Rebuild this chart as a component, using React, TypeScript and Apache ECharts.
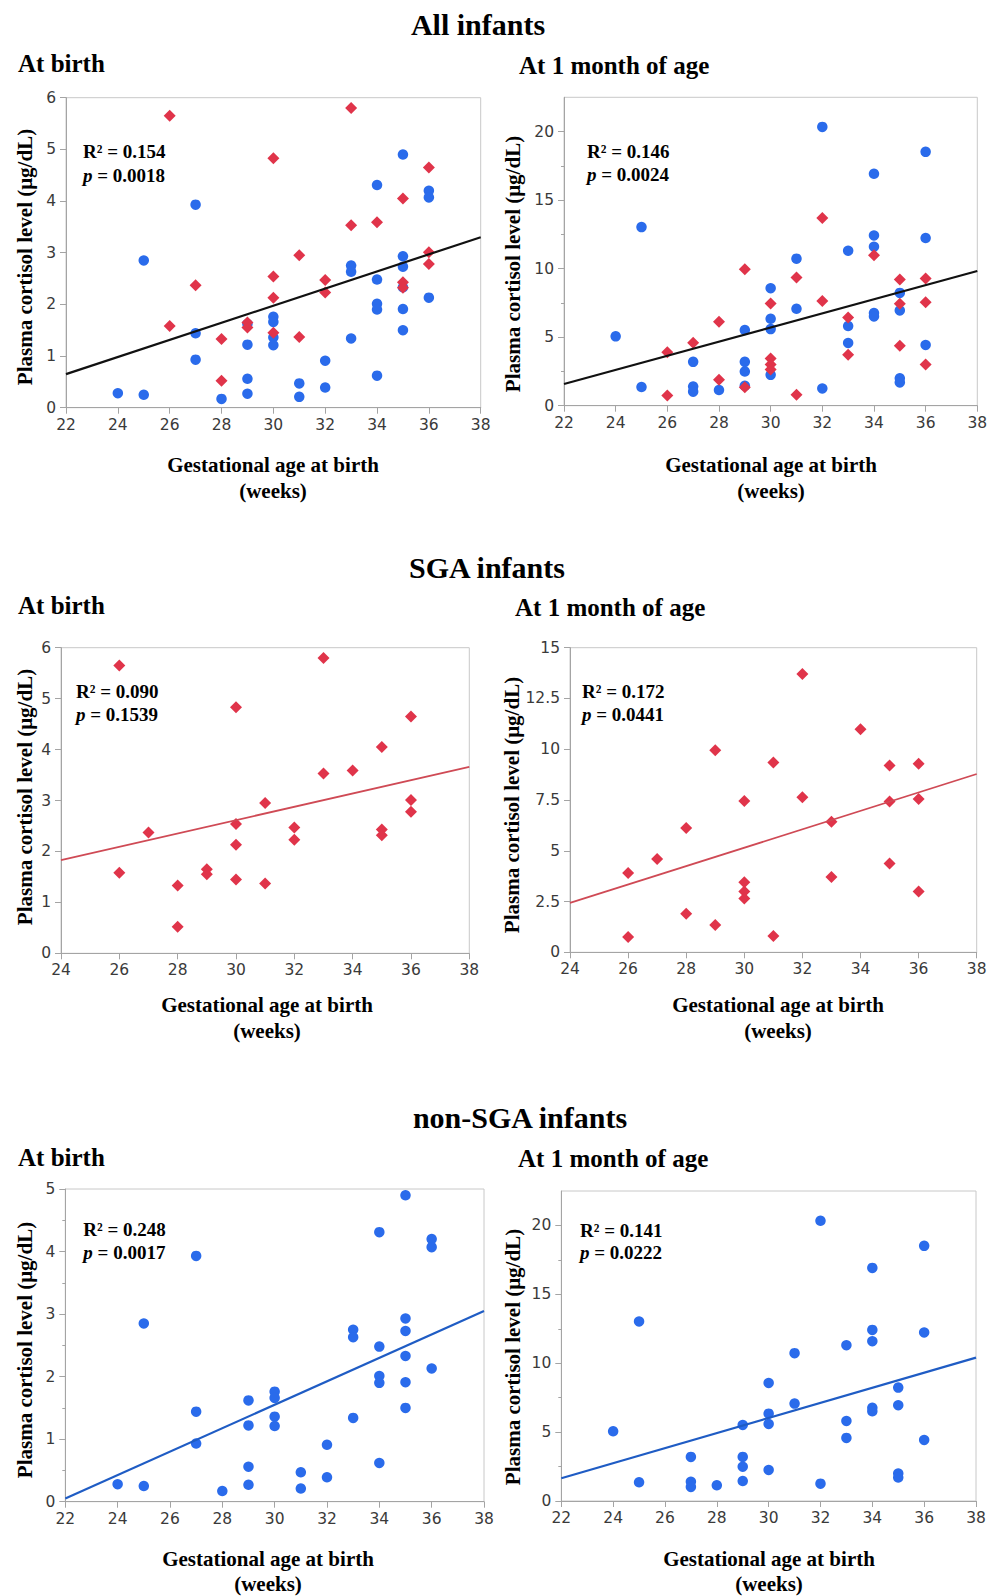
import React, { useEffect, useRef } from "react";
import * as echarts from "echarts";

type Pt = [number, number];

// ---- data (gestational week, cortisol µg/dL) ----
const sgaBirth: Pt[] = [
  [26, 5.65], [26, 1.58], [27, 2.37], [28, 1.33], [28, 0.52], [29, 1.65], [29, 1.55],
  [30, 4.83], [30, 2.54], [30, 2.13], [30, 1.45], [31, 2.95], [31, 1.37], [32, 2.47],
  [32, 2.23], [33, 5.8], [33, 3.53], [34, 3.59], [35, 4.05], [35, 2.43], [35, 2.32],
  [36, 4.65], [36, 3.01], [36, 2.78],
];
const sgaMonth: Pt[] = [
  [26, 3.9], [26, 0.75], [27, 4.6], [28, 6.12], [28, 1.9], [29, 9.95], [29, 1.35],
  [30, 7.45], [30, 3.45], [30, 3.0], [30, 2.65], [31, 9.35], [31, 0.8], [32, 13.7],
  [32, 7.63], [33, 6.43], [33, 3.71], [34, 10.98], [35, 9.2], [35, 7.43], [35, 4.37],
  [36, 9.28], [36, 7.55], [36, 3.0],
];
const nonSgaBirth: Pt[] = [
  [24, 0.28], [25, 2.85], [25, 0.25], [27, 3.93], [27, 1.44], [27, 0.93], [28, 0.17],
  [29, 1.62], [29, 1.22], [29, 0.56], [29, 0.27], [30, 1.76], [30, 1.66], [30, 1.36],
  [30, 1.21], [31, 0.47], [31, 0.21], [32, 0.91], [32, 0.39], [33, 2.75], [33, 2.63],
  [33, 1.34], [34, 4.31], [34, 2.48], [34, 2.01], [34, 1.9], [34, 0.62], [35, 4.9],
  [35, 2.93], [35, 2.73], [35, 2.33], [35, 1.91], [35, 1.5], [36, 4.2], [36, 4.07],
  [36, 2.13],
];
const nonSgaMonth: Pt[] = [
  [24, 5.06], [25, 13.03], [25, 1.36], [27, 3.2], [27, 1.4], [27, 1.02], [28, 1.14],
  [29, 5.52], [29, 3.2], [29, 2.49], [29, 1.45], [30, 8.57], [30, 6.34], [30, 5.59],
  [30, 2.25], [31, 10.73], [31, 7.07], [32, 20.34], [32, 1.26], [33, 11.31], [33, 5.81],
  [33, 4.58], [34, 16.92], [34, 12.42], [34, 11.6], [34, 6.76], [34, 6.51], [35, 8.23],
  [35, 6.95], [35, 2.0], [35, 1.7], [36, 18.52], [36, 12.23], [36, 4.43],
];

// regression lines (end points)
const fitAllBirth: Pt[] = [[22, 0.65], [38, 3.3]];
const fitAllMonth: Pt[] = [[22, 1.58], [38, 9.83]];
const fitSgaBirth: Pt[] = [[24, 1.83], [38, 3.66]];
const fitSgaMonth: Pt[] = [[24, 2.43], [38, 8.78]];
const fitNonSgaBirth: Pt[] = [[22, 0.05], [38, 3.05]];
const fitNonSgaMonth: Pt[] = [[22, 1.65], [38, 10.41]];

const r2Values = ["0.154", "0.146", "0.090", "0.172", "0.248", "0.141"];
const pValues = ["0.0018", "0.0024", "0.1539", "0.0441", "0.0017", "0.0222"];

const groupTitles = ["All infants", "SGA infants", "non-SGA infants"];
const timeTitles = ["At birth", "At 1 month of age"];
const yTitle = "Plasma cortisol level (μg/dL)";
const xTitle1 = "Gestational age at birth";
const xTitle2 = "(weeks)";

// ---- styling ----
const SERIF = '"Liberation Serif", "Times New Roman", serif';
const SANS = '"DejaVu Sans", Verdana, sans-serif';
const BLUE = "#2a6beb";
const RED = "#e0344a";
const AXIS = "#a4a4a4";
const LABEL = "#3a3a3a";

interface Panel {
  left: number; top: number; width: number; height: number;
  xMin: number; yMax: number; yInterval: number;
  minor: "none" | "split" | "custom";
  blue?: Pt[]; red?: Pt[];
  fit: Pt[]; fitColor: string; fitWidth: number;
  statX: number; statY1: number; statY2: number;
  yTitleX: number; yTitleY: number;
  xTitleX: number; xTitleY1: number; xTitleY2: number;
}

const panels: Panel[] = [
  { left: 66, top: 97.7, width: 414.7, height: 310, xMin: 22, yMax: 6, yInterval: 1, minor: "none",
    blue: nonSgaBirth, red: sgaBirth, fit: fitAllBirth, fitColor: "#111111", fitWidth: 2.2,
    statX: 83, statY1: 151, statY2: 175, yTitleX: 25, yTitleY: 257, xTitleX: 273, xTitleY1: 465, xTitleY2: 490.5 },
  { left: 564, top: 97.3, width: 413.3, height: 308.4, xMin: 22, yMax: 22.5, yInterval: 5, minor: "custom",
    blue: nonSgaMonth, red: sgaMonth, fit: fitAllMonth, fitColor: "#111111", fitWidth: 2.2,
    statX: 587, statY1: 151, statY2: 174.3, yTitleX: 513, yTitleY: 264, xTitleX: 771, xTitleY1: 465, xTitleY2: 490.5 },
  { left: 61, top: 647.7, width: 408.3, height: 305.6, xMin: 24, yMax: 6, yInterval: 1, minor: "none",
    red: sgaBirth, fit: fitSgaBirth, fitColor: "#cf4a55", fitWidth: 1.8,
    statX: 76, statY1: 691, statY2: 714.3, yTitleX: 25, yTitleY: 797, xTitleX: 267, xTitleY1: 1005, xTitleY2: 1030.6 },
  { left: 570, top: 647.7, width: 406.7, height: 304.6, xMin: 24, yMax: 15, yInterval: 2.5, minor: "none",
    red: sgaMonth, fit: fitSgaMonth, fitColor: "#cf4a55", fitWidth: 1.8,
    statX: 582, statY1: 691, statY2: 714.3, yTitleX: 512, yTitleY: 805, xTitleX: 778, xTitleY1: 1005, xTitleY2: 1030.6 },
  { left: 65.3, top: 1189, width: 418.7, height: 312.7, xMin: 22, yMax: 5, yInterval: 1, minor: "split",
    blue: nonSgaBirth, fit: fitNonSgaBirth, fitColor: "#1f5cc4", fitWidth: 2.2,
    statX: 83.3, statY1: 1229, statY2: 1252.3, yTitleX: 25, yTitleY: 1350, xTitleX: 268, xTitleY1: 1559, xTitleY2: 1584 },
  { left: 561.3, top: 1191, width: 414.7, height: 310, xMin: 22, yMax: 22.5, yInterval: 5, minor: "custom",
    blue: nonSgaMonth, fit: fitNonSgaMonth, fitColor: "#1f5cc4", fitWidth: 2.2,
    statX: 580, statY1: 1230, statY2: 1252.7, yTitleX: 513, yTitleY: 1357, xTitleX: 769, xTitleY1: 1559, xTitleY2: 1584 },
];

function txt(x: number, y: number, text: string, size: number, align: string, extra: any = {}) {
  return {
    type: "text",
    x, y,
    silent: true,
    ...extra,
    style: {
      text,
      font: `bold ${size}px ${SERIF}`,
      fill: "#000",
      align,
      verticalAlign: "middle",
      textAlign: align,
      textVerticalAlign: "middle",
      ...(extra.style || {}),
    },
  };
}

function buildOption() {
  const grid: any[] = [];
  const xAxis: any[] = [];
  const yAxis: any[] = [];
  const series: any[] = [];
  const graphic: any[] = [];

  panels.forEach((p, i) => {
    grid.push({
      left: p.left, top: p.top, width: p.width, height: p.height,
      show: true, borderColor: "#c8c8c8", borderWidth: 1, backgroundColor: "transparent",
      containLabel: false, outerBoundsMode: "none",
    });
    xAxis.push({
      gridIndex: i, type: "value", min: p.xMin, max: 38, interval: 2,
      axisLine: { show: true, onZero: false, lineStyle: { color: AXIS, width: 1 } },
      axisTick: { show: true, inside: false, length: 6, lineStyle: { color: AXIS } },
      axisLabel: { color: LABEL, fontFamily: SANS, fontSize: 15.5, margin: 9 },
      splitLine: { show: false },
    });
    const majorVals: number[] = [];
    for (let v = 0; v <= p.yMax + 1e-9; v += p.yInterval) majorVals.push(v);
    const yMain: any = {
      gridIndex: i, type: "value", min: 0, max: p.yMax, interval: p.yInterval,
      axisLine: { show: true, onZero: false, lineStyle: { color: AXIS, width: 1 } },
      axisTick: { show: true, inside: false, length: 6, lineStyle: { color: AXIS } },
      axisLabel: { color: LABEL, fontFamily: SANS, fontSize: 15.5, margin: 10 },
      splitLine: { show: false },
    };
    if (p.minor === "split") {
      yMain.minorTick = { show: true, splitNumber: 2, length: 3, lineStyle: { color: AXIS } };
    }
    if (p.minor === "custom") {
      yMain.axisTick.customValues = majorVals;
      yMain.axisLabel.customValues = majorVals;
      yMain.axisLabel.formatter = (v: number) => (Math.abs(v % 5) < 1e-9 ? String(v) : "");
    }
    const yIndex = yAxis.length;
    yAxis.push(yMain);
    if (p.minor === "custom") {
      const minorVals: number[] = [];
      for (let v = p.yInterval / 2; v < p.yMax - 1e-9; v += p.yInterval) minorVals.push(v);
      yAxis.push({
        gridIndex: i, type: "value", min: 0, max: p.yMax, interval: p.yInterval / 2, position: "left",
        axisLine: { show: false },
        axisTick: { show: true, inside: false, length: 3, lineStyle: { color: AXIS }, customValues: minorVals },
        axisLabel: { show: false },
        splitLine: { show: false },
      });
    }

    if (p.blue) {
      series.push({
        type: "scatter", xAxisIndex: i, yAxisIndex: yIndex, data: p.blue, silent: true,
        symbol: "circle", symbolSize: 10.5, itemStyle: { color: BLUE, opacity: 1 }, z: 2,
      });
    }
    if (p.red) {
      series.push({
        type: "scatter", xAxisIndex: i, yAxisIndex: yIndex, data: p.red, silent: true,
        symbol: "diamond", symbolSize: 12, itemStyle: { color: RED, opacity: 1 }, z: 3,
      });
    }
    series.push({
      type: "line", xAxisIndex: i, yAxisIndex: yIndex, data: p.fit, silent: true,
      symbol: "none", lineStyle: { color: p.fitColor, width: p.fitWidth }, z: 4,
    });

    // stats
    graphic.push(txt(p.statX, p.statY1, `R² = ${r2Values[i]}`, 19, "left"));
    graphic.push({
      type: "text", x: p.statX, y: p.statY2, silent: true,
      style: {
        text: `{i|p} = ${pValues[i]}`,
        font: `bold 19px ${SERIF}`,
        fill: "#000",
        align: "left", verticalAlign: "middle",
        textAlign: "left", textVerticalAlign: "middle",
        rich: { i: { font: `italic bold 19px ${SERIF}`, fill: "#000" } },
      },
    });
    // axis titles
    graphic.push(txt(p.yTitleX, p.yTitleY, yTitle, 21, "center", { rotation: Math.PI / 2 }));
    graphic.push(txt(p.xTitleX, p.xTitleY1, xTitle1, 21, "center"));
    graphic.push(txt(p.xTitleX, p.xTitleY2, xTitle2, 21, "center"));
  });

  // headings
  graphic.push(txt(478, 24, groupTitles[0], 30, "center"));
  graphic.push(txt(18, 63, timeTitles[0], 25, "left"));
  graphic.push(txt(519, 65, timeTitles[1], 25, "left"));
  graphic.push(txt(487, 567, groupTitles[1], 30, "center"));
  graphic.push(txt(18, 605, timeTitles[0], 25, "left"));
  graphic.push(txt(515, 607, timeTitles[1], 25, "left"));
  graphic.push(txt(520, 1117, groupTitles[2], 30, "center"));
  graphic.push(txt(18, 1157, timeTitles[0], 25, "left"));
  graphic.push(txt(518, 1158, timeTitles[1], 25, "left"));

  return {
    animation: false,
    backgroundColor: "#ffffff",
    grid, xAxis, yAxis, series, graphic,
  };
}

export default function App() {
  const ref = useRef<HTMLDivElement>(null);
  useEffect(() => {
    if (!ref.current) return;
    const chart = echarts.init(ref.current, undefined, { renderer: "svg" });
    chart.setOption(buildOption() as any);
    return () => chart.dispose();
  }, []);
  return (
    <div
      ref={ref}
      style={{ position: "absolute", left: 0, top: 0, width: 996, height: 1596, background: "#fff" }}
    />
  );
}
